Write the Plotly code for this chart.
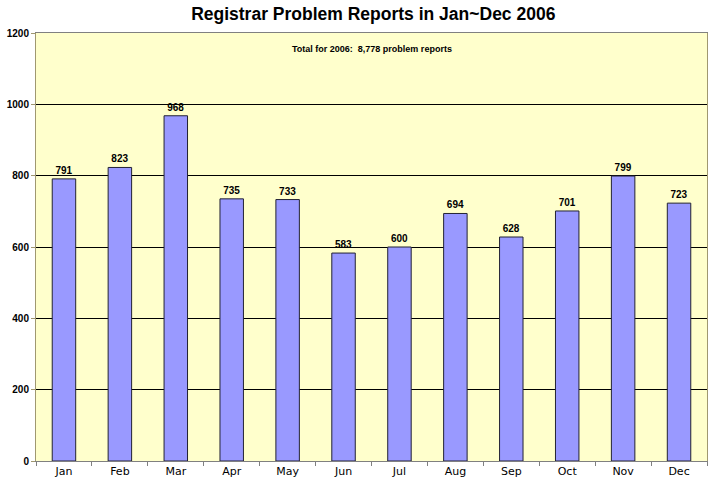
import plotly.graph_objects as go

months = ["Jan", "Feb", "Mar", "Apr", "May", "Jun", "Jul", "Aug", "Sep", "Oct", "Nov", "Dec"]
reports = [791, 823, 968, 735, 733, 583, 600, 694, 628, 701, 799, 723]
y_ticks = [0, 200, 400, 600, 800, 1000, 1200]
title = "Registrar Problem Reports in Jan~Dec 2006"
total_note = "Total for 2006:  8,778 problem reports"

fig = go.Figure()
fig.add_trace(go.Bar(
    x=months, y=reports,
    marker=dict(color="#9999FF", line=dict(color="#222233", width=1)),
    width=0.42,
    text=["<b>%d</b>" % v for v in reports],
    textposition="outside",
    textfont=dict(family="Arial", size=10, color="black"),
    cliponaxis=False,
))

fig.update_layout(
    width=711, height=486,
    margin=dict(l=36, r=4, t=33, b=25),
    paper_bgcolor="white",
    plot_bgcolor="#FFFFCC",
    showlegend=False,
    title=dict(text="<b>" + title + "</b>", x=0.525, xanchor="center", y=0.972, yanchor="middle",
               font=dict(family="Arial", size=17.5, color="black")),
    font=dict(family="Arial", color="black"),
)
fig.update_yaxes(
    range=[0, 1200], tickvals=y_ticks, ticktext=["<b>%d</b>" % v for v in y_ticks],
    tickfont=dict(family="Arial", size=10, color="black"),
    showgrid=True, gridcolor="black", gridwidth=1,
    showline=True, linecolor="#A09870", linewidth=1, mirror=True,
    ticks="outside", ticklen=4, tickcolor="#A09870",
    zeroline=False,
)
fig.update_xaxes(
    tickfont=dict(family="Tahoma, DejaVu Sans", size=11, color="black"),
    showline=True, linecolor="#808080", linewidth=1, mirror=True,
    ticks="outside", ticklen=4, tickcolor="#808080", tickson="boundaries",
    showgrid=False,
)
fig.add_annotation(
    text="<b>" + total_note + "</b>", xref="paper", yref="paper", x=0.5, y=0.963,
    xanchor="center", yanchor="middle", showarrow=False,
    font=dict(family="Arial", size=9, color="black"),
)
fig.write_html("out.html")
